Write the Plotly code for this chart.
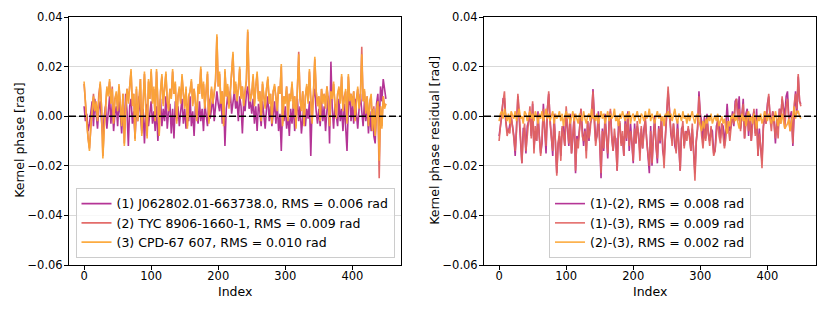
import plotly.graph_objects as go

# ---------------- data (values in mrad) ----------------
INDEX = list(range(0, 451, 2))
MRAD = 1e-3

LABELS_LEFT = ["(1) J062802.01-663738.0, RMS = 0.006 rad",
               "(2) TYC 8906-1660-1, RMS = 0.009 rad",
               "(3) CPD-67 607, RMS = 0.010 rad"]
LABELS_RIGHT = ["(1)-(2), RMS = 0.008 rad",
                "(1)-(3), RMS = 0.009 rad",
                "(2)-(3), RMS = 0.002 rad"]

kp1 = [4, -2, 1, -6, -3, 2, 6, -4, 7, 1, -5, 3, 6, -2, -8, 0, 4, -5, 2, 8, -3, 5, -6, 1, 4,
       -4, 6, 1, -7, 3, -5, 9, 2, -12, 4, 7, -3, 2, -9, 5, -2, 8, 1, -6, 3, -11, 2, 5, -4, 1,
       6, -3, 2, -6, 4, -10, 1, 7, -4, 3, -2, 8, -5, 2, 5, -7, 3, -9, 6, -1, 4, -4, 2, 7, -3,
       3, -5, 5, -2, 8, -4, 2, -8, 4, 1, -3, 6, -2, 3, -6, 5, 1, -4, 7, -1, 3, 8, -2, 4, 10,
       5, 2, 9, -3, 7, -12, 3, 8, 4, 10, 1, 6, 10, 3, 7, -2, 8, 4, -7, 6, 2, 9, 12, 3, 6,
       1, 7, -3, 4, -6, 5, 2, -4, 6, 1, -5, 3, 8, -2, 4, -4, 2, 6, -3, 5, -6, 1, -14, 3, -2,
       4, -5, 1, -8, 3, -3, 5, -6, 2, 7, -2, 4, -7, 1, 5, -4, 3, -1, 6, -16, 4, 8, 11, 2, -3,
       3, -4, 6, -2, 4, -6, 2, 8, -11, 22, 3, -5, 5, 1, -4, 7, -2, 3, -6, 5, -3, -14, 4, 9, -2,
       5, -3, 7, 1, -5, 3, 9, 2, -4, 6, -2, 4, -7, 2, -6, 3, -8, -11, 5, 9, -4, 12, 6, 15, 10,
       7]

kp2 = [13, 5, -2, -9, -13, -3, 3, 9, 2, 5, -1, 9, 13, 4, -16, -4, 6, 11, 9, 14, 5, 12, -2, 7, 9,
       3, 12, 6, -3, 9, -11, 4, 11, 6, 12, 18, 5, 9, -9, 11, -1, 7, 15, -7, 8, 17, 4, -8, 14, 7,
       18, 6, 11, -1, 18, 8, -7, 10, 16, 5, 13, 17, 6, 3, 11, 8, 18, 9, 13, -2, 8, 11, 6, 16, 9,
       4, 11, -4, 8, 10, 14, 5, 11, 6, -1, 12, 9, 19, 8, 13, 4, 10, 17, -2, 7, 11, 6, 9, 14, 32,
       12, 17, 6, 10, -3, 18, 8, 12, 4, 10, 16, 25, 9, 13, 7, 11, 19, 8, 12, 5, 10, 14, 34, 12, 7,
       9, 16, 5, 12, 17, 7, 10, -1, 13, 8, 4, 11, 15, 6, 9, -2, 10, 12, 7, 3, 12, 9, 20, -3, 8,
       6, 12, -1, 9, 7, 13, 4, 8, -4, 11, 26, 7, 3, 10, -3, 8, 12, 6, 18, 7, -2, 9, 23, 10, 5,
       8, -1, 11, 6, 9, 4, 12, 7, -3, 10, 8, 13, 5, 0, 9, 11, 6, 16, 3, 8, 10, -2, 16, 7, 9,
       5, 10, -1, 7, 11, 4, 8, 28, 6, 10, 2, 8, -3, 6, 8, -5, 4, -7, 3, 6, -25, 4, -4, 8, 4,
       5]

kp3 = [14, 4, -3, -9, -14, -4, 3, 8, 2, 6, -2, 9, 14, 3, -17, -5, 6, 12, 8, 15, 5, 11, -3, 7, 10,
       2, 13, 6, -4, 9, -12, 3, 11, 5, 13, 19, 4, 9, -10, 12, -2, 6, 15, -8, 8, 18, 3, -9, 15, 7,
       19, 5, 12, -2, 19, 8, -8, 10, 17, 4, 13, 18, 6, 2, 11, 7, 19, 9, 14, -3, 8, 12, 5, 17, 9,
       3, 12, -5, 8, 10, 15, 4, 11, 6, -2, 13, 9, 20, 7, 14, 3, 10, 18, -3, 6, 12, 5, 9, 15, 33,
       12, 18, 5, 10, -4, 19, 8, 13, 3, 10, 17, 26, 9, 14, 6, 11, 20, 7, 12, 4, 10, 15, 35, 12, 6,
       9, 17, 4, 12, 18, 6, 10, -2, 14, 8, 3, 11, 16, 5, 9, -3, 10, 13, 6, 2, 12, 9, 21, -4, 8,
       5, 12, -2, 9, 6, 14, 3, 8, -5, 11, 25, 7, 2, 10, -4, 8, 13, 5, 19, 6, -3, 9, 24, 10, 4,
       8, -2, 11, 5, 9, 3, 12, 6, -4, 10, 7, 14, 4, -1, 9, 12, 5, 17, 2, 8, 11, -3, 17, 6, 9,
       4, 10, -2, 7, 12, 3, 8, 25, 6, 11, 1, 8, -4, 6, 9, -6, 3, -8, 2, 6, -18, 4, -5, 8, 3,
       5]

res12 = [-8, -4, 0, 7, 7, -2, -6, -6, -4, -1, -4, -8, -16, -4, 8, -1, -10, -19, -5, -5, -15, -4, -2, 2, -8,
         5, -13, -6, -10, 2, -8, -15, -11, 5, -5, -15, 3, 9, -1, -8, -16, 1, -11, -23, -11, -8, -16, -5, -4, -12,
         2, -5, -12, 1, -15, -9, 1, -23, -8, -10, -5, 3, -6, -12, -5, -14, -2, -10, -3, -1, 11, -3, -10, -8, 2,
         -10, -25, -5, -14, 1, -8, -17, -2, 2, -8, -14, -8, -9, -22, -3, -3, -11, -8, -16, -1, -10, 2, -14, -3, -10,
         -19, -3, -11, -4, -7, -15, -5, -13, -5, -2, -9, -15, -23, -4, -20, -8, 0, -12, -19, -4, -11, 0, -14, -17, -9,
         3, 10, 3, -7, -10, -3, -12, -14, -2, -12, -22, -5, -4, -12, -6, -7, -5, -7, -14, -5, -17, -23, -10, -5, 10,
         1, -2, -11, 0, -9, 1, -7, -10, -5, -6, -15, -14, -4, -2, -4, -9, -3, -4, -12, -4, 5, -3, -6, -4, 2,
         -4, 6, 7, 1, 8, -5, 0, 7, -9, 1, 3, -8, 1, -10, -1, 2, -7, 3, -16, -5, -13, -18, -4, 0, -3,
         5, 8, 0, -3, 2, -2, -11, -1, -5, 3, 0, 7, 3, 0, 8, 10, -1, 0, 2, -12, 1, 10, 1, 16, 6,
         5]

res13 = [-10, -3, 2, 6, 10, -2, -8, -5, -7, 1, -4, -9, -14, -6, 9, 2, -11, -19, -8, -3, -14, -6, -2, 4, -9,
         6, -15, -4, -10, -1, -7, -16, -9, 3, -5, -12, 2, 10, -3, -8, -14, -2, -10, -24, -11, -6, -18, -4, -8, -12,
         4, -6, -11, -2, -15, -7, -1, -22, -9, -13, -4, 3, -8, -10, -6, -17, -2, -9, -5, 2, 10, -3, -12, -7, -1,
         -10, -23, -6, -13, -2, -8, -15, -4, 3, -9, -14, -5, -11, -22, -7, -2, -12, -6, -16, -3, -9, 1, -12, -6, -10,
         -18, -5, -11, -2, -8, -18, -4, -13, -7, 0, -10, -15, -20, -6, -19, -9, -3, -12, -17, -5, -10, -2, -14, -21, -8,
         3, 12, 2, -6, -12, -3, -9, -15, -5, -11, -22, -7, -2, -13, -6, -10, -4, -9, -14, -3, -18, -26, -10, -4, 8,
         -3, -8, -13, -5, -10, -2, -7, -12, -4, -9, -16, -14, -6, -1, -8, -11, -3, -7, -13, -9, -2, -5, -10, -4, 1,
         -3, 4, 7, -2, 3, -6, 1, 5, -9, -3, 2, -6, -1, -10, -4, 3, -8, -2, -16, -7, -12, -21, -5, 2, -3,
         3, 9, -1, -6, 2, -4, -9, -2, -9, 3, -3, 8, 1, -5, 4, 7, -2, -6, 0, -11, 5, 9, 3, 17, 6,
         4]

res23 = [-2, 1, 2, -1, 3, 0, -2, 1, -3, 2, 0, -1, 2, -2, 1, 3, -1, 0, -3, 2, 1, -2, 0, 2, -1,
         1, -2, 2, 0, -3, 1, -1, 2, -2, 0, 3, -1, 1, -2, 0, 2, -3, 1, -1, 0, 2, -2, 1, -4, 0,
         2, -1, 1, -3, 0, 2, -2, 1, -1, -3, 1, 0, -2, 2, -1, -3, 0, 1, -2, 3, -1, 0, -2, 1, -3,
         0, 2, -1, 1, -3, 0, 2, -2, 1, -1, 0, 3, -2, 0, -4, 1, -1, 2, 0, -2, 1, -1, 2, -3, 0,
         1, -2, 0, 2, -1, -3, 1, 0, -2, 2, -1, 0, 3, -2, 1, -1, -3, 0, 2, -1, 1, -2, 0, -4, 1,
         0, 2, -1, 1, -2, 0, 3, -1, -3, 1, 0, -2, 2, -1, 0, -3, 1, -2, 0, 2, -1, -3, 0, 1, -2,
         -4, -6, -2, -5, -1, -3, 0, -2, 1, -3, -1, 0, -2, 1, -4, -2, 0, -3, -1, -5, -7, -2, -4, 0, -1,
         1, -2, 0, -3, -5, -1, 1, -2, 0, -4, -1, 2, -2, 0, -3, 1, -1, -5, 0, -2, 1, -3, -1, 2, 0,
         -2, 1, -1, -3, 0, -2, 2, -1, -4, 0, -3, 1, -2, -5, -4, -3, -1, -6, -2, 0, 4, -1, 2, 2, 0,
         -1]

for arr in (kp1, kp2, kp3, res12, res13, res23):
    assert len(arr) == len(INDEX), len(arr)

# ---------------- styling ----------------
PURPLE = "#b12a90"
RED = "#e16462"
ORANGE = "#fca636"
COLORS = [PURPLE, RED, ORANGE]
FONT = "DejaVu Sans"
W, H = 830, 311

# plot region in pixels (outer box of both panels)
PL, PR, PT, PB = 69, 816, 17.3, 265
PW, PH = PR - PL, PB - PT


def px_x(p):
    return (p - PL) / PW


def px_y(p):
    return (PB - p) / PH


fig = go.Figure()

left_series = [kp1, kp2, kp3]
right_series = [res12, res13, res23]
for k, (vals, name) in enumerate(zip(left_series, LABELS_LEFT)):
    fig.add_trace(go.Scatter(
        x=INDEX, y=[v * MRAD for v in vals], mode="lines", name=name,
        line=dict(color=COLORS[k], width=1.6), opacity=0.95,
        xaxis="x", yaxis="y", legend="legend", legendgroup=f"L{k}"))
for k, (vals, name) in enumerate(zip(right_series, LABELS_RIGHT)):
    fig.add_trace(go.Scatter(
        x=INDEX, y=[v * MRAD for v in vals], mode="lines", name=name,
        line=dict(color=COLORS[k], width=1.6), opacity=0.95,
        xaxis="x2", yaxis="y2", legend="legend2", legendgroup=f"R{k}"))

# dashed zero lines
for xa, ya in (("x", "y"), ("x2", "y2")):
    fig.add_shape(type="line", xref=f"{xa} domain", yref=ya, x0=0, x1=1, y0=0, y1=0,
                  line=dict(color="black", width=1.6, dash="7px,3px"), layer="above")

common_x = dict(range=[-22.5, 472.5], tickvals=[0, 100, 200, 300, 400],
                showgrid=False, zeroline=False, showline=True, linecolor="black",
                linewidth=1, mirror=True, ticks="outside", ticklen=4, tickcolor="black",
                automargin=False, ticklabelstandoff=-4,
                tickfont=dict(family=FONT, size=11.5, color="black"))
common_y = dict(range=[-0.06, 0.04], tickvals=[-0.06, -0.04, -0.02, 0.0, 0.02, 0.04],
                tickformat=".2f", showgrid=True, gridcolor="#d9d9d9", gridwidth=1.2,
                zeroline=False, showline=True, linecolor="black", linewidth=1, mirror=True,
                ticks="outside", ticklen=4, tickcolor="black", automargin=False,
                ticklabelstandoff=-1,
                tickfont=dict(family=FONT, size=11.5, color="black"))

legend_common = dict(bgcolor="rgba(255,255,255,0.8)", bordercolor="#cccccc", borderwidth=1,
                     font=dict(family=FONT, size=12.5, color="black"),
                     yanchor="bottom", xanchor="center", tracegroupgap=2,
                     traceorder="normal")

fig.update_layout(
    width=W, height=H, autosize=False,
    margin=dict(l=PL, r=W - PR, t=PT, b=H - PB, pad=0, autoexpand=False),
    paper_bgcolor="white", plot_bgcolor="white",
    font=dict(family=FONT, color="black"),
    xaxis=dict(domain=[0, px_x(401)], anchor="y", **common_x),
    yaxis=dict(domain=[0, 1], anchor="x", **common_y),
    xaxis2=dict(domain=[px_x(484), 1], anchor="y2", **common_x),
    yaxis2=dict(domain=[0, 1], anchor="x2", **common_y),
    legend=dict(x=px_x((76 + 394) / 2), y=px_y(258), **legend_common),
    legend2=dict(x=px_x((550 + 750) / 2), y=px_y(258), **legend_common),
    showlegend=True,
)

ann_font = dict(family=FONT, size=12.5, color="black")
fig.add_annotation(text="Index", xref="paper", yref="paper", x=px_x((69 + 401) / 2), y=px_y(291),
                   showarrow=False, font=ann_font, xanchor="center", yanchor="middle")
fig.add_annotation(text="Index", xref="paper", yref="paper", x=px_x((484 + 816) / 2), y=px_y(291),
                   showarrow=False, font=ann_font, xanchor="center", yanchor="middle")
fig.add_annotation(text="Kernel phase [rad]", xref="paper", yref="paper", x=px_x(20),
                   y=px_y(141), textangle=-90, showarrow=False, font=ann_font,
                   xanchor="center", yanchor="middle")
fig.add_annotation(text="Kernel phase residual [rad]", xref="paper", yref="paper", x=px_x(435),
                   y=px_y(141), textangle=-90, showarrow=False, font=ann_font,
                   xanchor="center", yanchor="middle")

fig.write_html("out.html", config={"displayModeBar": False},
               post_script="document.body.style.margin='0px';document.body.style.overflow='hidden';")
